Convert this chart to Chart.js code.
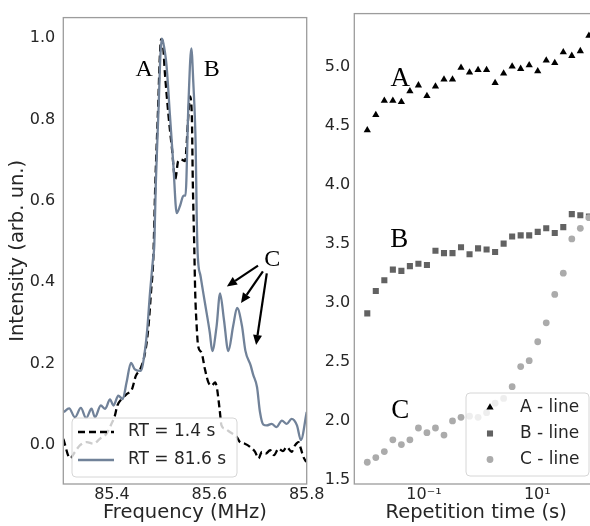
<!DOCTYPE html>
<html>
<head>
<meta charset="utf-8">
<script src="https://cdn.jsdelivr.net/npm/chart.js@4.4.1/dist/chart.umd.min.js"></script>
<style>
  html, body { margin: 0; padding: 0; background: #fff; overflow: hidden; }
  #wrap { position: relative; width: 590px; height: 526px; overflow: hidden; }
  #right { position: absolute; left: 300px; top: 0; }
  #left { position: absolute; left: 0; top: 0; }
</style>
</head>
<body>
<div id="wrap">
  <canvas id="right" width="300" height="526"></canvas>
  <canvas id="left" width="330" height="526"></canvas>
</div>
<script>
// left panel: spectra (RT = 1.4 s dashed, RT = 81.6 s solid)
const freqFast = [85.300, 85.314, 85.324, 85.334, 85.348, 85.362, 85.375, 85.389, 85.399, 85.406, 85.411, 85.420, 85.430, 85.441, 85.449, 85.458, 85.468, 85.475, 85.480, 85.485, 85.489, 85.495, 85.498, 85.501, 85.504, 85.509, 85.516, 85.523, 85.530, 85.536, 85.542, 85.550, 85.557, 85.560, 85.564, 85.566, 85.569, 85.571, 85.574, 85.577, 85.584, 85.591, 85.598, 85.605, 85.612, 85.616, 85.621, 85.625, 85.632, 85.642, 85.656, 85.663, 85.673, 85.684, 85.694, 85.701, 85.708, 85.716, 85.725, 85.733, 85.742, 85.751, 85.759, 85.769, 85.776, 85.783, 85.788, 85.793, 85.799];
const intFast = [0.015, -0.033, -0.017, -0.001, 0.007, 0.003, 0.015, 0.028, 0.052, 0.072, 0.097, 0.113, 0.125, 0.137, 0.170, 0.186, 0.227, 0.292, 0.373, 0.463, 0.642, 0.837, 0.946, 0.998, 0.993, 0.910, 0.812, 0.731, 0.654, 0.698, 0.702, 0.698, 0.812, 0.857, 0.812, 0.650, 0.488, 0.373, 0.292, 0.243, 0.227, 0.186, 0.154, 0.146, 0.154, 0.137, 0.089, 0.048, 0.040, 0.032, 0.020, 0.007, 0.003, -0.005, -0.017, -0.033, -0.017, -0.021, -0.013, -0.025, -0.009, -0.015, -0.005, -0.017, -0.001, 0.007, -0.009, -0.029, -0.042];

const freqSlow = [85.301, 85.312, 85.324, 85.336, 85.347, 85.358, 85.365, 85.377, 85.386, 85.396, 85.403, 85.413, 85.422, 85.430, 85.439, 85.447, 85.459, 85.468, 85.473, 85.478, 85.484, 85.487, 85.490, 85.496, 85.499, 85.502, 85.505, 85.512, 85.519, 85.526, 85.533, 85.540, 85.547, 85.551, 85.557, 85.563, 85.567, 85.572, 85.574, 85.576, 85.582, 85.591, 85.601, 85.606, 85.615, 85.622, 85.630, 85.639, 85.649, 85.657, 85.667, 85.674, 85.685, 85.690, 85.698, 85.704, 85.711, 85.718, 85.728, 85.738, 85.749, 85.759, 85.769, 85.780, 85.788, 85.800];
const intSlow = [0.081, 0.090, 0.068, 0.091, 0.066, 0.089, 0.068, 0.097, 0.089, 0.112, 0.097, 0.121, 0.113, 0.154, 0.202, 0.186, 0.182, 0.235, 0.292, 0.373, 0.454, 0.495, 0.642, 0.837, 0.946, 0.999, 0.991, 0.934, 0.812, 0.690, 0.570, 0.589, 0.613, 0.613, 0.837, 0.975, 0.893, 0.732, 0.568, 0.471, 0.415, 0.349, 0.276, 0.231, 0.293, 0.373, 0.308, 0.231, 0.293, 0.337, 0.293, 0.232, 0.195, 0.173, 0.142, 0.081, 0.050, 0.048, 0.052, 0.044, 0.060, 0.052, 0.064, 0.048, 0.012, 0.081];

// right panel: line positions vs repetition time
const repTime = [0.0100, 0.01414, 0.0200, 0.02827, 0.03997, 0.05649, 0.0799, 0.1129, 0.1597, 0.2258, 0.3192, 0.4512, 0.6379, 0.902, 1.275, 1.803, 2.549, 3.604, 5.095, 7.204, 10.19, 14.40, 20.36, 28.79, 40.70, 57.54, 81.6];
const lineA = [4.46, 4.59, 4.71, 4.71, 4.70, 4.79, 4.84, 4.75, 4.83, 4.89, 4.89, 4.99, 4.95, 4.97, 4.97, 4.86, 4.94, 5.00, 4.98, 5.01, 4.96, 5.05, 5.03, 5.12, 5.09, 5.13, 5.26];
const lineB = [2.91, 3.10, 3.19, 3.28, 3.27, 3.31, 3.33, 3.32, 3.44, 3.42, 3.42, 3.47, 3.41, 3.46, 3.45, 3.43, 3.50, 3.56, 3.57, 3.57, 3.60, 3.63, 3.59, 3.64, 3.75, 3.74, 3.73];
const lineC = [1.65, 1.69, 1.74, 1.84, 1.80, 1.84, 1.94, 1.90, 1.94, 1.88, 2.00, 2.03, 2.04, 2.03, 2.07, 2.15, 2.19, 2.29, 2.46, 2.51, 2.67, 2.83, 3.07, 3.25, 3.54, 3.63, 3.72];

const leftXTicks = [85.4, 85.6, 85.8];
const leftYTicks = [0.0, 0.2, 0.4, 0.6, 0.8, 1.0];
const rightXTicks = [0.1, 10];
const rightYTicks = [1.5, 2.0, 2.5, 3.0, 3.5, 4.0, 4.5, 5.0];

const SLATE = '#718299';
const TXT = '#262626';
Chart.defaults.font.family = '"DejaVu Sans", sans-serif';

const toXY = (xs, ys) => xs.map((x, i) => ({ x: x, y: ys[i] }));

const sup = { '-': '\u207B', '0': '\u2070', '1': '\u00B9', '2': '\u00B2', '3': '\u00B3' };
const powLabel = v => '10' + String(Math.round(Math.log10(v))).split('').map(c => sup[c] || c).join('');

function drawFrame(chart) {
  const { ctx, chartArea: a } = chart;
  ctx.save();
  ctx.strokeStyle = '#9c9c9c';
  ctx.lineWidth = 1.3;
  ctx.strokeRect(a.left, a.top, a.right - a.left, a.bottom - a.top);
  ctx.restore();
}

function drawArrow(ctx, x0, y0, x1, y1) {
  const ang = Math.atan2(y1 - y0, x1 - x0);
  const hl = 10, hw = 4.5;
  const bx = x1 - hl * Math.cos(ang), by = y1 - hl * Math.sin(ang);
  ctx.beginPath();
  ctx.moveTo(x0, y0);
  ctx.lineTo(bx, by);
  ctx.stroke();
  ctx.beginPath();
  ctx.moveTo(x1, y1);
  ctx.lineTo(bx + hw * Math.sin(ang), by - hw * Math.cos(ang));
  ctx.lineTo(bx - hw * Math.sin(ang), by + hw * Math.cos(ang));
  ctx.closePath();
  ctx.fill();
}

function legendBox(ctx, x, y, w, h) {
  ctx.save();
  ctx.beginPath();
  ctx.roundRect(x, y, w, h, 4);
  ctx.fillStyle = 'rgba(255,255,255,0.8)';
  ctx.fill();
  ctx.strokeStyle = '#d6d6d6';
  ctx.lineWidth = 1;
  ctx.stroke();
  ctx.restore();
}

// letters and arrows (data coordinates)
const leftLabels = [
  { text: 'A', x: 85.466, y: 0.924 },
  { text: 'B', x: 85.605, y: 0.924 },
  { text: 'C', x: 85.729, y: 0.456 }
];
const leftArrows = [
  [85.700, 0.441, 85.636, 0.390],
  [85.710, 0.427, 85.665, 0.349],
  [85.718, 0.422, 85.696, 0.246]
];
const rightLabels = [
  { text: 'A', x: 0.0382, y: 4.898 },
  { text: 'B', x: 0.0366, y: 3.532 },
  { text: 'C', x: 0.0382, y: 2.082 }
];

const leftDecor = {
  id: 'leftDecor',
  afterDatasetsDraw(chart) {
    const { ctx, scales: { x, y } } = chart;
    drawFrame(chart);
    ctx.save();
    ctx.fillStyle = '#000';
    ctx.font = '24px "Liberation Serif", serif';
    ctx.textAlign = 'center';
    ctx.textBaseline = 'middle';
    leftLabels.forEach(l => ctx.fillText(l.text, x.getPixelForValue(l.x), y.getPixelForValue(l.y)));
    ctx.strokeStyle = '#000';
    ctx.lineWidth = 2.2;
    leftArrows.forEach(a => drawArrow(ctx, x.getPixelForValue(a[0]), y.getPixelForValue(a[1]),
      x.getPixelForValue(a[2]), y.getPixelForValue(a[3])));
    ctx.restore();

    // legend
    legendBox(ctx, 72, 418, 165, 59);
    ctx.save();
    chart.data.datasets.slice().reverse().forEach((ds, i) => {
      const ry = 432 + i * 28;
      ctx.beginPath();
      ctx.setLineDash(ds.borderDash || []);
      ctx.strokeStyle = ds.borderColor;
      ctx.lineWidth = ds.borderWidth;
      ctx.moveTo(78, ry);
      ctx.lineTo(114, ry);
      ctx.stroke();
      ctx.setLineDash([]);
      ctx.fillStyle = TXT;
      ctx.font = '17px "DejaVu Sans", sans-serif';
      ctx.textAlign = 'left';
      ctx.textBaseline = 'middle';
      ctx.fillText(ds.label, 128, ry);
    });
    ctx.restore();
  }
};

const rightDecor = {
  id: 'rightDecor',
  afterDatasetsDraw(chart) {
    const { ctx, scales: { x, y } } = chart;
    drawFrame(chart);
    ctx.save();
    ctx.fillStyle = '#000';
    ctx.font = '27px "Liberation Serif", serif';
    ctx.textAlign = 'center';
    ctx.textBaseline = 'middle';
    rightLabels.forEach(l => ctx.fillText(l.text, x.getPixelForValue(l.x), y.getPixelForValue(l.y)));
    ctx.restore();

    // legend (canvas starts at page x = 300)
    legendBox(ctx, 166, 393, 123, 83);
    ctx.save();
    chart.data.datasets.slice().reverse().forEach((ds, i) => {
      const ry = 407.5 + i * 26;
      ctx.fillStyle = ds.backgroundColor;
      ctx.strokeStyle = ds.backgroundColor;
      ctx.lineWidth = 0;
      Chart.helpers.drawPoint(ctx, { pointStyle: ds.pointStyle, radius: ds.pointRadius, rotation: 0, borderWidth: 0 }, 190, ry);
      ctx.fillStyle = TXT;
      ctx.font = '17px "DejaVu Sans", sans-serif';
      ctx.textAlign = 'left';
      ctx.textBaseline = 'middle';
      ctx.fillText(ds.label, 220, ry);
    });
    ctx.restore();
  }
};

new Chart(document.getElementById('left'), {
  type: 'line',
  data: {
    datasets: [
      {
        label: 'RT = 81.6 s',
        data: toXY(freqSlow, intSlow),
        borderColor: SLATE,
        borderWidth: 2.3,
        pointRadius: 0,
        cubicInterpolationMode: 'monotone'
      },
      {
        label: 'RT = 1.4 s',
        data: toXY(freqFast, intFast),
        borderColor: '#000',
        borderWidth: 2.3,
        borderDash: [7, 4],
        pointRadius: 0,
        cubicInterpolationMode: 'monotone'
      }
    ]
  },
  options: {
    responsive: false,
    animation: false,
    layout: { padding: { left: 0, top: 12, right: 23.3, bottom: 0 }, autoPadding: false },
    plugins: { legend: { display: false }, tooltip: { enabled: false } },
    scales: {
      x: {
        type: 'linear', min: 85.3, max: 85.8,
        grid: { display: false, drawTicks: false, tickLength: 0 },
        border: { display: false },
        afterBuildTicks: s => { s.ticks = leftXTicks.map(v => ({ value: v })); },
        afterFit: s => { s.height = 42; },
        ticks: { padding: 1.5, color: TXT, font: { size: 16 }, maxRotation: 0, autoSkip: false, callback: v => v.toFixed(1) },
        title: { display: true, text: 'Frequency (MHz)', color: TXT, font: { size: 19.5 }, padding: { top: 0, bottom: 1 } }
      },
      y: {
        type: 'linear', min: -0.096, max: 1.051,
        grid: { display: false, drawTicks: false, tickLength: 0 },
        border: { display: false },
        afterBuildTicks: s => { s.ticks = leftYTicks.map(v => ({ value: v })); },
        afterFit: s => { s.width = 63.3; },
        ticks: { padding: 8, color: TXT, font: { size: 16 }, autoSkip: false, callback: v => v.toFixed(1) },
        title: { display: true, text: 'Intensity (arb. un.)', color: TXT, font: { size: 19.5 }, padding: { top: 6.3, bottom: 0 } }
      }
    }
  },
  plugins: [leftDecor]
});

new Chart(document.getElementById('right'), {
  type: 'scatter',
  data: {
    datasets: [
      { label: 'C - line', data: toXY(repTime, lineC), backgroundColor: '#ababab', borderWidth: 0, pointStyle: 'circle', pointRadius: 3.4 },
      { label: 'B - line', data: toXY(repTime, lineB), backgroundColor: '#626262', borderWidth: 0, pointStyle: 'rect', pointRadius: 4.3 },
      { label: 'A - line', data: toXY(repTime, lineA), backgroundColor: '#000000', borderWidth: 0, pointStyle: 'triangle', pointRadius: 4.2 }
    ]
  },
  options: {
    responsive: false,
    animation: false,
    layout: { padding: { left: 0, top: 12, right: 2, bottom: 0 }, autoPadding: false },
    plugins: { legend: { display: false }, tooltip: { enabled: false } },
    scales: {
      x: {
        type: 'logarithmic', min: 0.0059, max: 118,
        grid: { display: false, drawTicks: false, tickLength: 0 },
        border: { display: false },
        afterBuildTicks: s => { s.ticks = rightXTicks.map(v => ({ value: v })); },
        afterFit: s => { s.height = 42; },
        ticks: { padding: 1.5, color: TXT, font: { size: 16 }, maxRotation: 0, autoSkip: false, callback: v => powLabel(v) },
        title: { display: true, text: 'Repetition time (s)', color: TXT, font: { size: 19.5 }, padding: { top: 0, bottom: 1 } }
      },
      y: {
        type: 'linear', min: 1.466, max: 5.447,
        grid: { display: false, drawTicks: false, tickLength: 0 },
        border: { display: false },
        afterBuildTicks: s => { s.ticks = rightYTicks.map(v => ({ value: v })); },
        afterFit: s => { s.width = 54.3; },
        ticks: { padding: 4, color: TXT, font: { size: 16 }, autoSkip: false, callback: v => v.toFixed(1) }
      }
    }
  },
  plugins: [rightDecor]
});
</script>
</body>
</html>
